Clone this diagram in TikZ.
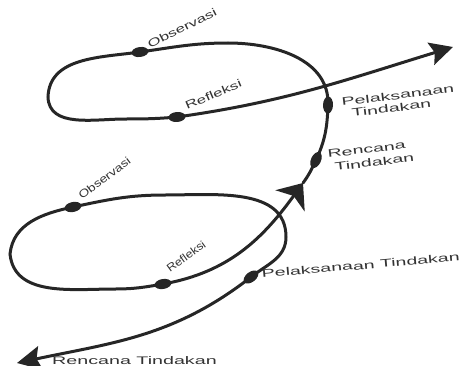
\documentclass[tikz,border=0pt]{standalone}
\usepackage{fontspec}
\setmainfont{Liberation Sans}
\usepackage{graphicx}
\usetikzlibrary{arrows.meta,shapes.geometric}

\begin{document}
\begin{tikzpicture}[x=1pt,y=1pt,
    spiral/.style={line width=3pt, draw=black!85, line cap=round},
    dot/.style={ellipse, fill=black!85, inner sep=0pt, minimum width=17pt, minimum height=10pt},
    lbl/.style={anchor=base west, inner sep=0pt, text=black!80, font=\fontsize{11}{13}\selectfont}]
\useasboundingbox (0,0) rectangle (462,365);
% points on the spiral
\coordinate (s) at (17,2);
\coordinate (p1) at (251,88);
\coordinate (r1) at (286,128);
\coordinate (t1) at (165,170);
\coordinate (o1) at (73,158);
\coordinate (l1) at (10,111);
\coordinate (b1) at (115,76);
\coordinate (f1) at (163,81);
\coordinate (m) at (303,182);
\coordinate (r2) at (316,205);
\coordinate (p2) at (328,260);
\coordinate (t2) at (228,322);
\coordinate (o2) at (140,313);
\coordinate (l2) at (48,268);
\coordinate (b2) at (125,246);
\coordinate (f2) at (177,248);
\coordinate (e) at (453,318);
% first cycle
\draw[spiral, {Stealth[length=24pt,width=24pt,inset=4pt]}-{Stealth[length=22pt,width=36pt,inset=6pt]}]
    (s) to[out=12,in=218] node[dot,sloped,pos=1] (dP1) {} (p1)
    to[out=38,in=-90] (r1)
    to[out=90,in=0] (t1)
    to[out=180,in=12] node[dot,sloped,pos=1] (dO1) {} (o1)
    to[out=192,in=84] (l1)
    to[out=-84,in=180] (b1)
    to[out=0,in=190] node[dot,sloped,pos=1] (dF1) {} (f1)
    to[out=10,in=234] (m);
% second cycle
\draw[spiral, -{Stealth[length=23pt,width=23pt,inset=4pt]}]
    (m) to[out=54,in=245] node[dot,sloped,pos=1] (dR2) {} (r2)
    to[out=65,in=-92] node[dot,sloped,pos=1] (dP2) {} (p2)
    to[out=88,in=0] (t2)
    to[out=180,in=8] node[dot,sloped,pos=1] (dO2) {} (o2)
    to[out=188,in=88] (l2)
    to[out=-88,in=180] (b2)
    to[out=0,in=185] node[dot,sloped,pos=1] (dF2) {} (f2)
    to[out=8,in=197] (e);
% labels
\node[lbl] (lblR1) at (52,1) {\scalebox{1.79}[1]{Rencana Tindakan}};
\node[lbl,rotate=5] (lblP1) at (262,87) {\scalebox{1.78}[1]{Pelaksanaan Tindakan}};
\node[lbl,rotate=37] (lblO1) at (82,165) {\scalebox{1.25}[1]{Observasi}};
\node[lbl,rotate=36] (lblF1) at (170,92) {\scalebox{1.15}[1]{Refleksi}};
\node[lbl,rotate=7] (lblR2a) at (328,207) {\scalebox{1.78}[1]{Rencana}};
\node[lbl,rotate=7] (lblR2b) at (335,194) {\scalebox{1.78}[1]{Tindakan}};
\node[lbl,rotate=7] (lblP2a) at (342,259) {\scalebox{1.78}[1]{Pelaksanaan}};
\node[lbl,rotate=7] (lblP2b) at (352,248) {\scalebox{1.78}[1]{Tindakan}};
\node[lbl,rotate=27] (lblO2) at (150,316) {\scalebox{1.53}[1]{Observasi}};
\node[lbl,rotate=23] (lblF2) at (187,255) {\scalebox{1.54}[1]{Refleksi}};
\end{tikzpicture}
\end{document}
